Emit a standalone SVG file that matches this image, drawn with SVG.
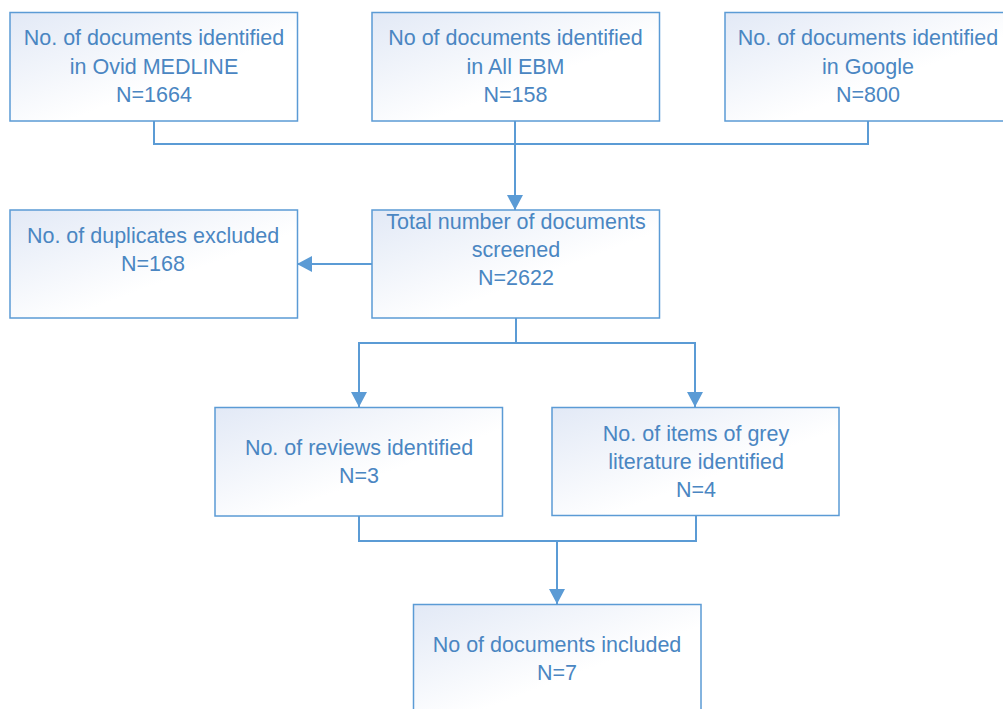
<svg xmlns="http://www.w3.org/2000/svg" width="1003" height="709" viewBox="0 0 1003 709">
<defs>
<linearGradient id="fillG" x1="0" y1="0" x2="1" y2="1">
<stop offset="0" stop-color="#e2e9f6"/>
<stop offset="0.6" stop-color="#ffffff"/>
<stop offset="1" stop-color="#ffffff"/>
</linearGradient>
<marker id="arr" markerUnits="userSpaceOnUse" markerWidth="16" markerHeight="16" refX="15" refY="8" orient="auto" viewBox="0 0 16 16">
<path d="M0,0 L15,8 L0,16 Z" fill="#5b9bd5"/>
</marker>
</defs>
<style>
.box{fill:url(#fillG);stroke:#5b9bd5;stroke-width:1.5}
.t{font-family:"Liberation Sans",Arial,sans-serif;font-size:21.5px;fill:#4a86c2;text-anchor:middle}
.c{fill:none;stroke:#5b9bd5;stroke-width:2}
</style>
<rect width="1003" height="709" fill="#ffffff"/>
<g id="connectors">
<path class="c" d="M154,121 V144 H868 V121"/>
<path class="c" d="M515,121 V210" marker-end="url(#arr)"/>
<path class="c" d="M372,264 H297" marker-end="url(#arr)"/>
<path class="c" d="M516,318 V343"/>
<path class="c" d="M516,343 H359 V407" marker-end="url(#arr)"/>
<path class="c" d="M516,343 H695 V407" marker-end="url(#arr)"/>
<path class="c" d="M359,516 V541 H696 V516"/>
<path class="c" d="M557,541 V604" marker-end="url(#arr)"/>
</g>
<g id="medline">
<rect class="box" x="10" y="12.5" width="287.5" height="108.5"/>
<text class="t" x="154" y="45">No. of documents identified</text>
<text class="t" x="154" y="74">in Ovid MEDLINE</text>
<text class="t" x="154" y="102">N=1664</text>
</g>
<g id="ebm">
<rect class="box" x="372" y="12.5" width="287.5" height="108.5"/>
<text class="t" x="515.5" y="45">No of documents identified</text>
<text class="t" x="515.5" y="74">in All EBM</text>
<text class="t" x="515.5" y="102">N=158</text>
</g>
<g id="google">
<rect class="box" x="725" y="12.5" width="287.5" height="108.5"/>
<text class="t" x="868" y="45">No. of documents identified</text>
<text class="t" x="868" y="74">in Google</text>
<text class="t" x="868" y="102">N=800</text>
</g>
<g id="duplicates">
<rect class="box" x="10" y="210" width="287.5" height="108"/>
<text class="t" x="153" y="243">No. of duplicates excluded</text>
<text class="t" x="153" y="271">N=168</text>
</g>
<g id="screened">
<rect class="box" x="372" y="210" width="287.5" height="108"/>
<text class="t" x="516" y="229">Total number of documents</text>
<text class="t" x="516" y="257">screened</text>
<text class="t" x="516" y="285">N=2622</text>
</g>
<g id="reviews">
<rect class="box" x="215" y="407.5" width="287.5" height="108.5"/>
<text class="t" x="359" y="455">No. of reviews identified</text>
<text class="t" x="359" y="483">N=3</text>
</g>
<g id="grey">
<rect class="box" x="552" y="407.5" width="287" height="108"/>
<text class="t" x="696" y="441">No. of items of grey</text>
<text class="t" x="696" y="469">literature identified</text>
<text class="t" x="696" y="497">N=4</text>
</g>
<g id="included">
<rect class="box" x="413.5" y="604.5" width="287.5" height="110"/>
<text class="t" x="557" y="652">No of documents included</text>
<text class="t" x="557" y="680">N=7</text>
</g>
</svg>
